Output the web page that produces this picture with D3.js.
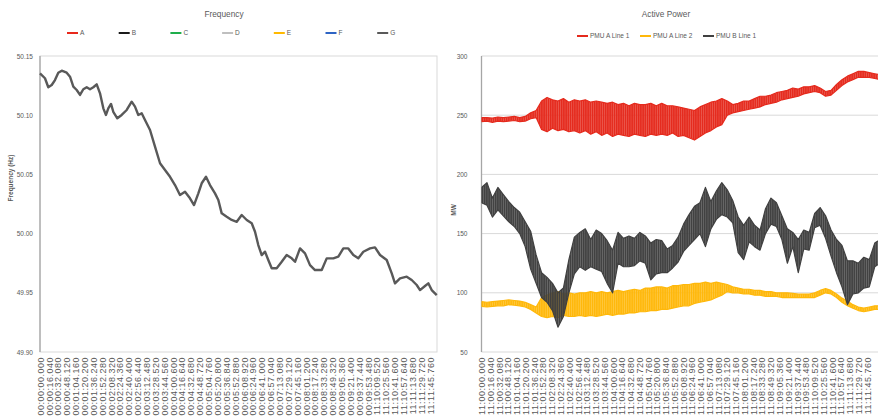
<!DOCTYPE html>
<html>
<head>
<meta charset="utf-8">
<script src="https://cdnjs.cloudflare.com/ajax/libs/d3/7.8.5/d3.min.js"></script>
<style>
	body { margin: 0; background: #fff; }
	svg { display: block; font-family: "Liberation Sans", Arial, sans-serif; }
	.tick text { fill: #595959; }
	.title { font-size: 8.3px; fill: #595959; text-anchor: middle; }
	.legendText { font-size: 6.5px; fill: #595959; }
	.axisTitle { font-size: 6.5px; fill: #595959; font-weight: bold; text-anchor: middle; }
</style>
</head>
<body>
<svg id="chart" width="878" height="419"></svg>
<script>

//////////////////////////// Frequency data ////////////////////////////
var freqTime = [0,9,15,21.2,27.1,33.1,39.3,48.3,54.3,60.3,
	66.4,72.4,78.4,84.5,90.5,96.5,102.6,108.6,114.6,119.4,
	123.6,128.5,132.6,139.9,147.8,156.9,165.9,171.9,177.9,184,
	190,199.1,208.1,217.2,226.2,235.3,244.3,253.3,262.4,271.4,
	278.7,286.5,292.6,300.4,307.6,316.7,322.7,328.8,337.9,346.9,
	356,365,374.1,383.1,389.1,395,401.2,407.2,413.1,419.3,
	428.3,437.4,446.4,455.5,461.5,470.5,479.6,488.6,497.6,509.8,
	518.8,530.8,539.8,548.9,557.9,567,576,585.1,597.2,606.2,
	615.3,627.4,636.5,642.4,651.5,663.6,672.6,681.7,687.7,696.7,
	702.7,708.8,717.9];
var freqValue = [50.1354,50.1312,50.1236,50.1255,50.1297,50.1359,50.1376,50.1359,50.1325,50.1241,
	50.1213,50.1171,50.1219,50.1236,50.1219,50.1236,50.1261,50.1185,50.1058,50.1002,
	50.1058,50.1095,50.1029,50.0974,50.1002,50.1044,50.1114,50.1072,50.1002,50.1016,
	50.0959,50.0875,50.0734,50.0594,50.0537,50.0480,50.0410,50.0326,50.0354,50.0298,
	50.0241,50.0340,50.0425,50.0480,50.0410,50.0340,50.0284,50.0171,50.0142,50.0115,
	50.0100,50.0157,50.0115,50.0087,50.0016,49.9903,49.9819,49.9847,49.9777,49.9707,
	49.9707,49.9762,49.9819,49.9791,49.9762,49.9875,49.9833,49.9734,49.9692,49.9692,
	49.9791,49.9791,49.9805,49.9875,49.9875,49.9819,49.9791,49.9847,49.9875,49.9884,
	49.9819,49.9777,49.9664,49.9580,49.9622,49.9636,49.9608,49.9566,49.9523,49.9557,
	49.9580,49.9523,49.9481];
var freqTicks = [49.90, 49.95, 50.00, 50.05, 50.10, 50.15];
var freqLegend = ["A","B","C","D","E","F","G"];
var freqLegendColors = ["#e8291c","#1a1a1a","#1fae4b","#bfbfbf","#ffb900","#2e64c4","#595959"];

//////////////////////////// Active power data /////////////////////////
//one sample every 10 s, low and high of the oscillation band
var powerStep = 10;
var redLo = [244.5,245,244,245,244.5,245,245.5,244.5,245,247,
	248,238,236,239,237,238,236,237,235,237,
	234,236,233,235,232,234,233,232,234,233,
	232,234,233,234,233,235,232,233,231,229,
	232,235,237,240,242,250,252,253,254,255,
	256,257,259,260,261,263,264,265,266,268,
	269,270,269,266,267,271,275,278,280,282,
	282,282,281,280];
var redHi = [248,248,247.5,248.5,248,248.5,249,248,249,252,
	254,262,265,263,262,264,261,263,262,263,
	261,262,261,260,261,259,260,258,260,259,
	259,260,258,260,258,258,257,256,255,254,
	257,259,261,262,264,262,259,260,262,262,
	264,266,266,267,269,270,271,273,272,274,
	274,275,273,270,271,276,280,283,285,287,
	287,286,285,284];
var yelLo = [88.5,88,88.5,89,89,90,89.5,89,88,86,
	83,80,79,80,79,81,80,80,81,80,
	81,80,81,82,81,82,82,83,83,84,
	84,85,85,86,86,87,88,89,89,91,
	92,93,94,96,98,101,100,100,99,99,
	98,98,97,97,97,96,96,96,96,96,
	96,96,98,100,99,96,92,89,87,85,
	84,85,86,86];
var yelHi = [92.5,92,92.5,93,93.5,94,93.5,93,92,90,
	88,96,98,100,101,99,100,99,100,100,
	101,100,101,100,101,102,101,102,103,102,
	104,104,105,105,104,106,106,107,107,108,
	108,109,108,109,108,107,105,104,103,103,
	102,102,101,101,100,100,100,99.5,99,99,
	99,100,102,103.5,102,99,95.5,93,90,88,
	87,88,89,89];
var grayLo = [176,174,164,170,165,160,156,150,139,120,
	108,96,92,85,71,80,100,116,122,119,
	122,120,118,108,100,125,122,122,123,127,
	125,111,116,117,117,121,126,135,140,145,
	150,139,154,162,166,164,159,134,128,143,
	139,136,150,158,156,145,125,139,117,137,
	136,155,157,146,131,117,105,90,99,100,
	104,105,122,125];
var grayHi = [189,193,180,189,183,177,172,168,160,152,
	132,117,113,108,100,104,128,147,151,154,
	145,153,150,144,136,151,146,148,146,151,
	148,142,145,144,137,140,147,158,166,173,
	176,189,177,186,193,187,178,164,157,164,
	157,153,171,180,176,165,154,151,145,153,
	151,167,172,165,153,145,140,127,127,125,
	130,128,142,145];
var powerTicks = [50, 100, 150, 200, 250, 300];
var powerLegend = ["PMU A Line 1","PMU A Line 2","PMU B Line 1"];
var powerColors = ["#e52a1d","#ffb80a","#404040"];

//x tick labels, one every 16.04 s
var tickSeconds = d3.range(45).map(function(i) { return i * 16.04; });
function pad(n, w) { return ("000" + n).slice(-w); }
function clock(hh, s) {
	var ms = Math.round(s * 1000);
	return hh + ":" + pad(Math.floor(ms / 60000), 2) + ":" + pad(Math.floor(ms % 60000 / 1000), 2) + "." + pad(ms % 1000, 3);
}
var freqTickLabels = tickSeconds.map(function(s, i) { return clock(i < 38 ? "00" : "11", s); });
var powerTickLabels = tickSeconds.map(function(s) { return clock("11", s); });

var svg = d3.select("#chart");
var plotTop = 56, plotBottom = 352;
var defs = svg.append("defs");

///////////////////////////////////////////////////////////////////////////
//////////////////////////// Frequency panel //////////////////////////////
///////////////////////////////////////////////////////////////////////////

var fx = d3.scaleLinear().domain([0, 718.4]).range([40, 437]);
var fy = d3.scaleLinear().domain([49.90, 50.15]).range([plotBottom, plotTop]);

svg.append("rect")
	.attr("x", fx.range()[0]).attr("y", plotTop)
	.attr("width", fx.range()[1] - fx.range()[0]).attr("height", plotBottom - plotTop)
	.attr("fill", "none").attr("stroke", "#d9d9d9");

svg.append("line")
	.attr("x1", fx.range()[0]).attr("x2", fx.range()[0])
	.attr("y1", plotTop).attr("y2", plotBottom)
	.attr("stroke", "#a6a6a6").attr("stroke-width", 1.3);

var fyAxis = svg.append("g")
	.attr("transform", "translate(" + fx.range()[0] + ",0)")
	.call(d3.axisLeft(fy).tickValues(freqTicks).tickFormat(d3.format(".2f")).tickSize(0).tickPadding(7));
fyAxis.select(".domain").remove();
fyAxis.selectAll("text").style("font-size", "6.5px");

var fxAxis = svg.append("g")
	.attr("transform", "translate(0," + plotBottom + ")")
	.call(d3.axisBottom(fx).tickValues(tickSeconds).tickFormat(function(d, i) { return freqTickLabels[i]; }).tickSize(0));
fxAxis.select(".domain").remove();
fxAxis.selectAll("text")
	.attr("transform", "rotate(-90)")
	.attr("text-anchor", "end")
	.attr("x", -5).attr("y", 0).attr("dy", "0.35em")
	.style("font-size", "9px").style("letter-spacing", "0.5px");

svg.append("path")
	.datum(d3.range(freqTime.length))
	.attr("fill", "none")
	.attr("stroke", "#595959")
	.attr("stroke-width", 2.4)
	.attr("stroke-linejoin", "round")
	.attr("d", d3.line()
		.x(function(i) { return fx(freqTime[i]); })
		.y(function(i) { return fy(freqValue[i]); }));

svg.append("text").attr("class", "title").attr("x", 224).attr("y", 17).text("Frequency");
svg.append("text").attr("class", "axisTitle")
	.attr("transform", "translate(13,178) rotate(-90)")
	.text("Frequency (Hz)");

var fLeg = svg.selectAll(".fLeg").data(freqLegend).enter().append("g")
	.attr("class", "fLeg")
	.attr("transform", function(d, i) { return "translate(" + (67 + i * 51.7) + ",33)"; });
fLeg.append("line").attr("x1", 0).attr("x2", 11)
	.attr("stroke", function(d, i) { return freqLegendColors[i]; }).attr("stroke-width", 2);
fLeg.append("text").attr("class", "legendText").attr("x", 13).attr("dy", "0.35em").text(function(d) { return d; });

///////////////////////////////////////////////////////////////////////////
////////////////////////// Active power panel /////////////////////////////
///////////////////////////////////////////////////////////////////////////

var px = d3.scaleLinear().domain([0, 727.8]).range([481.5, 879]);
var py = d3.scaleLinear().domain([50, 300]).range([plotBottom, plotTop]);

defs.append("clipPath").attr("id", "powerClip")
	.append("rect").attr("x", px.range()[0]).attr("y", plotTop)
	.attr("width", px.range()[1] - px.range()[0]).attr("height", plotBottom - plotTop);

//fine vertical streaks so the dense oscillation reads like the sampled trace
powerColors.forEach(function(c, k) {
	var p = defs.append("pattern").attr("id", "streak" + k)
		.attr("patternUnits", "userSpaceOnUse").attr("width", 2.2).attr("height", 6);
	p.append("rect").attr("width", 2.2).attr("height", 6).attr("fill", c).attr("opacity", 0.78);
	p.append("rect").attr("width", 1.4).attr("height", 6).attr("fill", c);
});

svg.selectAll(".grid").data(powerTicks.slice(1)).enter().append("line")
	.attr("class", "grid")
	.attr("x1", px.range()[0]).attr("x2", px.range()[1])
	.attr("y1", function(d) { return py(d); }).attr("y2", function(d) { return py(d); })
	.attr("stroke", "#d9d9d9");
svg.append("line")
	.attr("x1", px.range()[0]).attr("x2", px.range()[1])
	.attr("y1", plotBottom).attr("y2", plotBottom)
	.attr("stroke", "#d9d9d9");
svg.append("line")
	.attr("x1", px.range()[0]).attr("x2", px.range()[0])
	.attr("y1", plotTop).attr("y2", plotBottom)
	.attr("stroke", "#a6a6a6").attr("stroke-width", 1.3);

var pyAxis = svg.append("g")
	.attr("transform", "translate(" + px.range()[0] + ",0)")
	.call(d3.axisLeft(py).tickValues(powerTicks).tickSize(0).tickPadding(14));
pyAxis.select(".domain").remove();
pyAxis.selectAll("text").style("font-size", "6.5px");

var pxAxis = svg.append("g")
	.attr("transform", "translate(0," + plotBottom + ")")
	.call(d3.axisBottom(px).tickValues(tickSeconds).tickFormat(function(d, i) { return powerTickLabels[i]; }).tickSize(0));
pxAxis.select(".domain").remove();
pxAxis.selectAll("text")
	.attr("transform", "rotate(-90)")
	.attr("text-anchor", "end")
	.attr("x", -5).attr("y", 0).attr("dy", "0.35em")
	.style("font-size", "9px").style("letter-spacing", "0.5px");

var bands = [[redLo, redHi], [yelLo, yelHi], [grayLo, grayHi]];
var plot = svg.append("g").attr("clip-path", "url(#powerClip)");
bands.forEach(function(b, k) {
	plot.append("path")
		.datum(d3.range(b[0].length))
		.attr("fill", "url(#streak" + k + ")")
		.attr("stroke", powerColors[k])
		.attr("stroke-width", 1.2)
		.attr("stroke-linejoin", "round")
		.attr("d", d3.area()
			.x(function(i) { return px(i * powerStep); })
			.y0(function(i) { return py(b[0][i]); })
			.y1(function(i) { return py(b[1][i]); }));
});

svg.append("text").attr("class", "title").attr("x", 666).attr("y", 17).text("Active Power");
svg.append("text").attr("class", "axisTitle")
	.attr("transform", "translate(456,210) rotate(-90)")
	.text("MW");

var pLegX = [577, 640, 703];
var pLeg = svg.selectAll(".pLeg").data(powerLegend).enter().append("g")
	.attr("class", "pLeg")
	.attr("transform", function(d, i) { return "translate(" + pLegX[i] + ",36)"; });
pLeg.append("line").attr("x1", 0).attr("x2", 11)
	.attr("stroke", function(d, i) { return powerColors[i]; }).attr("stroke-width", 2);
pLeg.append("text").attr("class", "legendText").attr("x", 13).attr("dy", "0.35em").text(function(d) { return d; });

</script>
</body>
</html>
